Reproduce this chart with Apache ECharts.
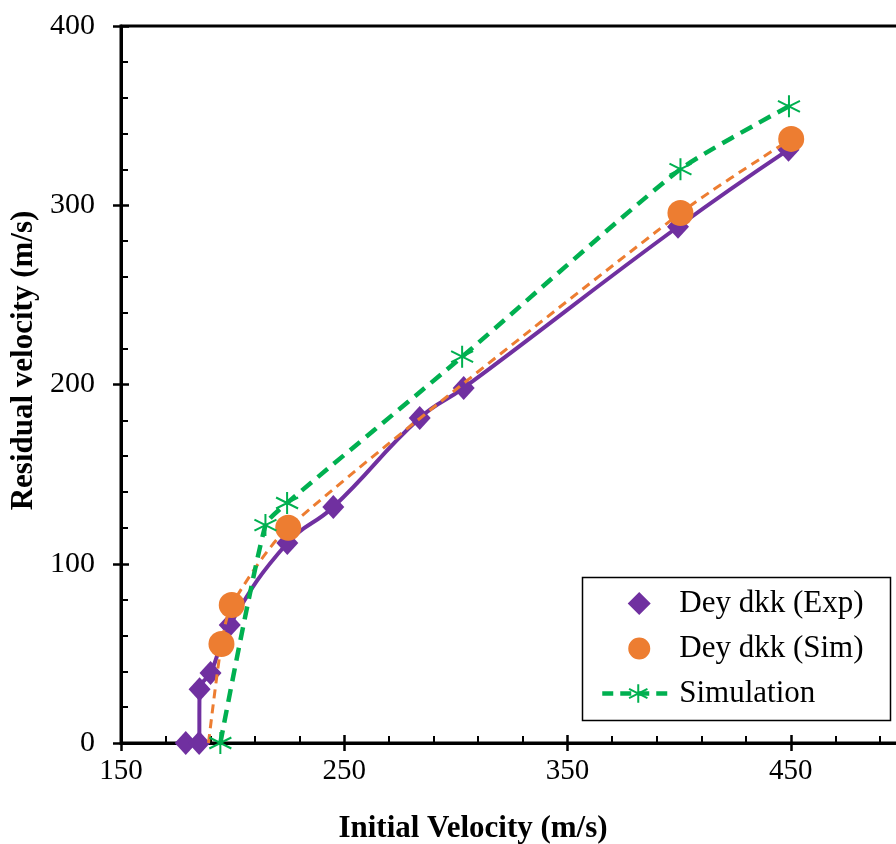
<!DOCTYPE html>
<html>
<head>
<meta charset="utf-8">
<script src="https://cdn.jsdelivr.net/npm/echarts@6/dist/echarts.min.js"></script>
<style>
html,body{margin:0;padding:0;background:#fff;}
#chart{width:896px;height:844px;}
</style>
</head>
<body>
<div id="chart"></div>
<script>
// Data
var seriesNames = ['Dey dkk (Exp)', 'Dey dkk (Sim)', 'Simulation'];
var expX = [179, 185, 185.2, 190.1, 198.7, 224.5, 245.1, 283.8, 303.5, 399.5, 449];
var expY = [0, 0, 30, 39.1, 65.8, 111.6, 131.7, 181.3, 198.1, 288, 331];
var simX = [189.2, 195, 199.6, 224.9, 400.6, 450.2];
var simY = [0, 55.2, 77, 120.1, 295.7, 337];
var simMarker = [false, true, true, true, true, true];
var modX = [194.5, 214.7, 224.4, 302.8, 400.6, 449.2];
var modY = [0, 121.6, 133.9, 215.5, 320.1, 355.2];
var xTicks = [150, 250, 350, 450];
var yTicks = [0, 100, 200, 300, 400];

var FONT = '"Liberation Serif", "Times New Roman", serif';
var PURPLE = '#7030A0', ORANGE = '#ED7D31', GREEN = '#00B050';
var STAR = 'path://M0,-10 L0,10 M-8.66,-5 L8.66,5 M-8.66,5 L8.66,-5';
// legend icons padded to the full icon width so they are not stretched
var LEG_DIAMOND = 'path://M0,12 L0.01,12 M72,12 L71.99,12 M37,0 L49,12 L37,24 L25,12 Z';
var LEG_CIRCLE = 'path://M0,11 L0.01,11 M72,11 L71.99,11 M37,0 A11,11 0 1,1 37,22 A11,11 0 1,1 37,0 Z';

function pairs(xs, ys) { return xs.map(function (x, i) { return [x, ys[i]]; }); }

var chart = echarts.init(document.getElementById('chart'), null, {renderer: 'canvas'});
var xMin = 150, xMax = 550, yMin = 0, yMax = 400;

var simData = pairs(simX, simY).map(function (p, i) {
  return simMarker[i] ? {value: p} : {value: p, symbol: 'none'};
});

var option = {
  animation: false,
  backgroundColor: '#fff',
  grid: {
    left: 121, top: 26, width: 893, height: 717,
    show: true, borderColor: '#000', borderWidth: 3, backgroundColor: 'transparent',
    containLabel: false, outerBoundsMode: 'none'
  },
  xAxis: [
    {
      type: 'value', position: 'bottom', min: xMin, max: xMax, interval: 100,
      axisLine: {show: true, onZero: false, lineStyle: {color: '#000', width: 3}},
      axisTick: {show: true, inside: false, length: 8, lineStyle: {color: '#000', width: 2.5}},
      minorTick: {show: false},
      splitLine: {show: false},
      axisLabel: {
        show: true, margin: 14, color: '#000', fontSize: 29, fontFamily: FONT,
        formatter: function (v) { return xTicks.indexOf(v) >= 0 ? String(v) : ''; }
      },
      name: 'Initial Velocity (m/s)', nameLocation: 'middle', nameGap: 70,
      nameTextStyle: {color: '#000', fontSize: 31, fontWeight: 'bold', fontFamily: FONT, padding: [0, 189, 0, 0]}
    },
    {
      type: 'value', position: 'bottom', min: xMin, max: xMax, interval: 100,
      axisLine: {show: false, onZero: false},
      axisTick: {show: true, inside: true, length: 8, lineStyle: {color: '#000', width: 2.5}},
      minorTick: {show: true, splitNumber: 5, length: 7, lineStyle: {color: '#000', width: 2}},
      splitLine: {show: false},
      axisLabel: {show: false}
    }
  ],
  yAxis: [
    {
      type: 'value', position: 'left', min: yMin, max: yMax, interval: 100,
      axisLine: {show: true, onZero: false, lineStyle: {color: '#000', width: 3}},
      axisTick: {show: true, inside: false, length: 8, lineStyle: {color: '#000', width: 2.5}},
      minorTick: {show: false},
      splitLine: {show: false},
      axisLabel: {
        show: true, margin: 26, color: '#000', fontSize: 30, fontFamily: FONT,
        formatter: function (v) { return yTicks.indexOf(v) >= 0 ? String(v) : ''; }
      },
      name: 'Residual velocity (m/s)', nameLocation: 'middle', nameGap: 80, nameRotate: 90,
      nameTextStyle: {color: '#000', fontSize: 31, fontWeight: 'bold', fontFamily: FONT, padding: [0, 0, 0, 48]}
    },
    {
      type: 'value', position: 'left', min: yMin, max: yMax, interval: 100,
      axisLine: {show: false, onZero: false},
      axisTick: {show: true, inside: true, length: 8, lineStyle: {color: '#000', width: 2.5}},
      minorTick: {show: true, splitNumber: 5, length: 7, lineStyle: {color: '#000', width: 2}},
      splitLine: {show: false},
      axisLabel: {show: false}
    }
  ],
  legend: {
    orient: 'vertical', left: 600, top: 588, padding: 0,
    itemWidth: 72, itemHeight: 23, itemGap: 14,
    textStyle: {color: '#000', fontSize: 31, fontFamily: FONT},
    data: [
      {name: seriesNames[0], icon: LEG_DIAMOND},
      {name: seriesNames[1], icon: LEG_CIRCLE},
      {name: seriesNames[2], lineStyle: {width: 4.5, type: [11, 7], color: GREEN}}
    ]
  },
  graphic: [
    {type: 'rect', left: 580, top: 575, shape: {width: 308, height: 143},
     style: {fill: 'none', stroke: '#000', lineWidth: 1.5}, z: 10}
  ],
  series: [
    {
      name: seriesNames[0], type: 'line', xAxisIndex: 0, yAxisIndex: 0,
      data: pairs(expX, expY), smooth: 0.45,
      symbol: 'diamond', symbolSize: [22, 24],
      lineStyle: {color: PURPLE, width: 4},
      itemStyle: {color: PURPLE},
      clip: false, z: 3
    },
    {
      name: seriesNames[1], type: 'line', xAxisIndex: 0, yAxisIndex: 0,
      data: simData, smooth: 0.25,
      symbol: 'circle', symbolSize: 26,
      lineStyle: {color: ORANGE, width: 3, type: [9, 6]},
      itemStyle: {color: ORANGE},
      clip: false, z: 4
    },
    {
      name: seriesNames[2], type: 'line', xAxisIndex: 0, yAxisIndex: 0,
      data: pairs(modX, modY), smooth: 0.2,
      symbol: STAR, symbolSize: 22,
      lineStyle: {color: GREEN, width: 4.5, type: [13, 8]},
      itemStyle: {color: GREEN, borderColor: GREEN, borderWidth: 2},
      clip: false, z: 5
    }
  ]
};
chart.setOption(option);
</script>
</body>
</html>
